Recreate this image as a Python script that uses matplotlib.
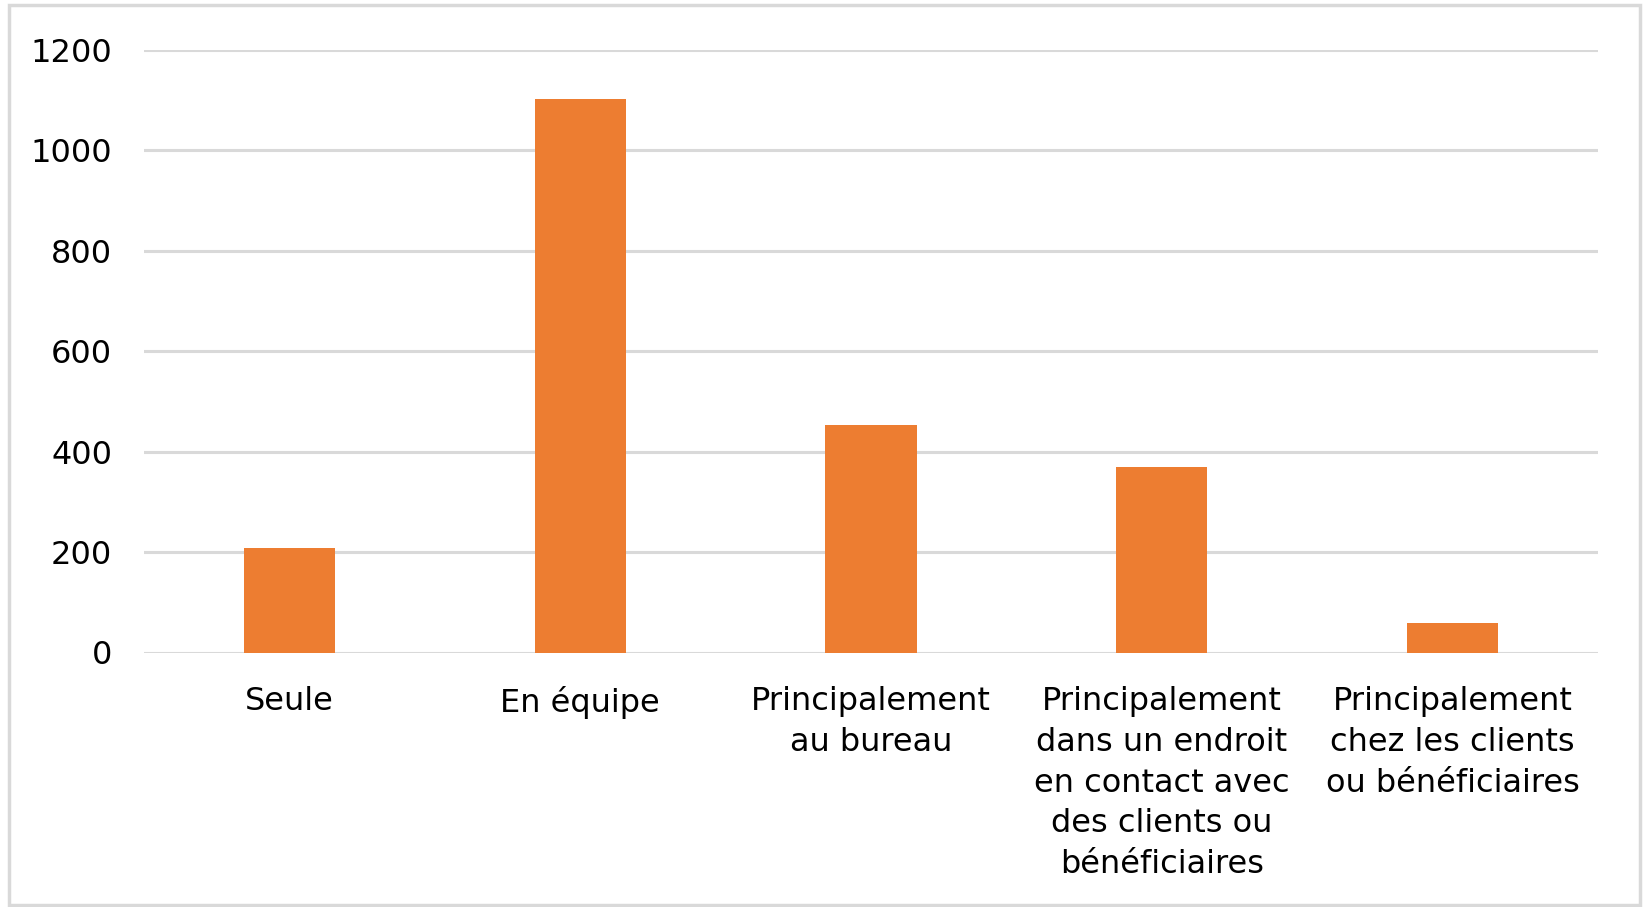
import matplotlib
matplotlib.use("Agg")
from matplotlib import pyplot as plt
from matplotlib.patches import Rectangle
import numpy as np

categories = [
    "Seule",
    "En équipe",
    "Principalement\nau bureau",
    "Principalement\ndans un endroit\nen contact avec\ndes clients ou\nbénéficiaires",
    "Principalement\nchez les clients\nou bénéficiaires",
]
values = [208, 1103, 453, 369, 59]
yticks = [0, 200, 400, 600, 800, 1000, 1200]

W, H, DPI = 1643, 907, 100
fig = plt.figure(figsize=(W / DPI, H / DPI), dpi=DPI)

# outer frame
fig.patches.append(Rectangle((9 / W, 0.002), (1640 - 9) / W, (H - 7) / H,
                             transform=fig.transFigure, fill=False,
                             edgecolor="#d9d9d9", linewidth=2.5))

ax = fig.add_axes([144 / W, 1 - 652.5 / H, (1598 - 144) / W, (652.5 - 50) / H])
x = np.arange(len(categories))
ax.bar(x, values, width=0.313, color="#ED7D31", zorder=3)

ax.set_xlim(-0.5, len(categories) - 0.5)
ax.set_ylim(0, 1200)
ax.set_yticks(yticks)
ax.set_yticklabels([str(t) for t in yticks], fontsize=23)
ax.set_xticks(x)
ax.set_xticklabels(categories, fontsize=23, linespacing=1.41)
ax.tick_params(axis="both", length=0)
ax.tick_params(axis="y", pad=23)
ax.tick_params(axis="x", pad=24)
ax.grid(axis="y", color="#d9d9d9", linewidth=2.2, zorder=0)
for s in ax.spines.values():
    s.set_visible(False)

fig.savefig("out.png", dpi=DPI)
